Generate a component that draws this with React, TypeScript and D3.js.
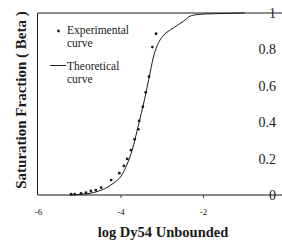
import React from "react";
import * as d3 from "d3";

const expX = [-5.21, -5.12, -4.97, -4.85, -4.73, -4.61, -4.48, -4.24, -4.04, -3.93, -3.85, -3.76, -3.67, -3.58, -3.56, -3.47, -3.4, -3.32, -3.24, -3.15];
const expY = [0.004, 0.005, 0.009, 0.013, 0.022, 0.027, 0.04, 0.082, 0.12, 0.16, 0.198, 0.247, 0.306, 0.361, 0.407, 0.485, 0.564, 0.65, 0.813, 0.886];

const theoX = [-5.24, -4.99, -4.67, -4.43, -4.19, -3.98, -3.86, -3.78, -3.55, -3.39, -3.27, -3.22, -3.13, -3.05, -2.99, -2.73, -2.49, -2.33, -2.16, -1.92, -1.6, -1.0];
const theoY = [0, 0.003, 0.013, 0.031, 0.064, 0.11, 0.165, 0.21, 0.41, 0.566, 0.7, 0.753, 0.817, 0.853, 0.872, 0.918, 0.954, 0.982, 0.991, 0.995, 0.997, 1.0];

const xTicks = [-6, -4, -2];
const xTickLabels = ["-6", "-4", "-2"];
const yTicks = [0, 0.2, 0.4, 0.6, 0.8, 1];
const yTickLabels = ["0", "0.2", "0.4", "0.6", "0.8", "1"];

const legendLabels = [["Experimental", "curve"], ["Theoretical", "curve"]];

export default function App() {
  const W = 282, H = 241;
  const x = d3.scaleLinear().domain([-6, 0]).range([38.5, 286]);
  const y = d3.scaleLinear().domain([0, 1]).range([195, 13]);
  const serif = "Liberation Serif, DejaVu Serif, serif";
  const ink = "#1a1a1a";

  const theo = theoX.map((v, i) => [v, theoY[i]] as [number, number]);
  const line = d3.line<[number, number]>().x(d => x(d[0])).y(d => y(d[1])).curve(d3.curveMonotoneX);

  return (
    <svg width={W} height={H} style={{ position: "absolute", left: 0, top: 0, background: "#fff", fontFamily: serif }}>
      <rect x={0} y={0} width={W} height={H} fill="#fff" />
      <line x1={37.5} x2={W} y1={y(1)} y2={y(1)} stroke={ink} strokeWidth={1} />
      <line x1={37.5} x2={W} y1={y(0)} y2={y(0)} stroke={ink} strokeWidth={1.2} />
      <line x1={37.5} x2={37.5} y1={y(1)} y2={y(0)} stroke={ink} strokeWidth={1} />
      {xTicks.map((t, i) => (
        <g key={"xt" + i}>
          {i > 0 && <line x1={x(t)} x2={x(t)} y1={y(0)} y2={y(0) + 3} stroke={ink} strokeWidth={0.8} />}
          <text x={x(t)} y={215} style={{ fontFamily: serif }} fontSize={9} textAnchor="middle" fill={ink}>{xTickLabels[i]}</text>
        </g>
      ))}
      {yTicks.map((t, i) => (
        <text key={"yt" + i} x={276} y={y(t)} dy="0.35em" style={{ fontFamily: serif }} fontSize={14} textAnchor="end" fill={ink}>{yTickLabels[i]}</text>
      ))}
      <path d={line(theo) || ""} fill="none" stroke={ink} strokeWidth={1} />
      {expX.map((v, i) => (
        <circle key={"p" + i} cx={x(v)} cy={y(expY[i])} r={1.4} fill={ink} />
      ))}
      <circle cx={58.5} cy={31} r={1.4} fill={ink} />
      <text x={67} y={33.5} style={{ fontFamily: serif }} fontSize={11.5} fill={ink}>{legendLabels[0][0]}</text>
      <text x={67} y={46.5} style={{ fontFamily: serif }} fontSize={11.5} fill={ink}>{legendLabels[0][1]}</text>
      <line x1={50} x2={66} y1={65.5} y2={65.5} stroke={ink} strokeWidth={1} />
      <text x={67} y={70} style={{ fontFamily: serif }} fontSize={11.5} fill={ink}>{legendLabels[1][0]}</text>
      <text x={67} y={83} style={{ fontFamily: serif }} fontSize={11.5} fill={ink}>{legendLabels[1][1]}</text>
      <text x={163} y={237} style={{ fontFamily: serif }} fontSize={14.5} fontWeight="bold" textAnchor="middle" fill={ink}>log Dy54 Unbounded</text>
      <text transform="translate(25.5,100) rotate(-90)" style={{ fontFamily: serif }} fontSize={15} fontWeight="bold" textAnchor="middle" fill={ink}>Saturation Fraction ( Beta )</text>
    </svg>
  );
}
